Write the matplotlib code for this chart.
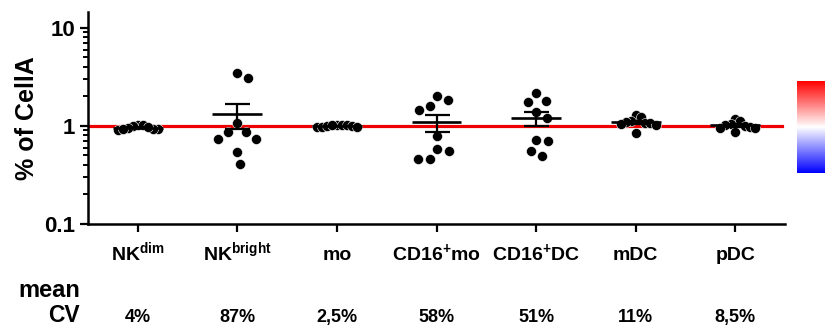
import numpy as np
import matplotlib
matplotlib.use("Agg")
import matplotlib.pyplot as plt
import matplotlib.transforms as mtransforms
from matplotlib.ticker import LogLocator, NullFormatter, FixedLocator

plt.rcParams['font.family'] = ['Liberation Sans', 'DejaVu Sans']
plt.rcParams['font.weight'] = 'bold'
plt.rcParams['mathtext.fontset'] = 'custom'
plt.rcParams['mathtext.rm'] = 'Liberation Sans:bold'
plt.rcParams['mathtext.bf'] = 'Liberation Sans:bold'
plt.rcParams['mathtext.default'] = 'bf'

# data (% of CellA)
labels = [r'NK$^{dim}$', r'NK$^{bright}$', 'mo', r'CD16$^{+}$mo', r'CD16$^{+}$DC', 'mDC', 'pDC']
nk_dim = [1.03, 1.01, 0.99, 0.95, 0.92, 0.91, 0.92, 0.93, 0.97]
nk_bright = [3.5, 3.07, 1.06, 0.875, 0.875, 0.74, 0.74, 0.54, 0.41]
mo = [1.03, 1.02, 1.01, 1.0, 0.98, 0.97, 0.98, 1.0, 1.02]
cd16_mo = [2.04, 1.84, 1.6, 1.46, 0.79, 0.58, 0.56, 0.457, 0.457]
cd16_dc = [2.16, 1.81, 1.74, 1.39, 1.2, 0.72, 0.70, 0.56, 0.49]
mdc = [1.29, 1.24, 1.12, 1.1, 1.08, 1.08, 1.05, 1.02, 0.85]
pdc = [1.18, 1.13, 1.05, 1.02, 1.0, 0.98, 0.96, 0.95, 0.87]
groups = [nk_dim, nk_bright, mo, cd16_mo, cd16_dc, mdc, pdc]
cv_text = ['4%', '87%', '2,5%', '58%', '51%', '11%', '8,5%']

fig = plt.figure(figsize=(8.25, 3.28), dpi=100)
ax = fig.add_axes([88/825, 1-224/328, 697/825, 212/328])
ax.set_yscale('log')
ax.set_ylim(0.1, 14.5)
ax.set_xlim(-0.5, 6.5)

ax.axhline(1, xmin=0, xmax=0.995, color='#ee0000', lw=2.3, zorder=1)

def swarm(vals, xc, d=12.0, maxw=20.0):
    # simple beeswarm in pixel space
    disp = ax.transData.transform(np.column_stack([np.full(len(vals), xc), vals]))
    ys = disp[:, 1]
    order = np.argsort(-ys)
    placed = []
    offs = np.zeros(len(vals))
    cands = [0.0]
    for k in range(1, 200):
        cands += [k*0.5, -k*0.5]
    for i in order:
        for c in cands:
            if all((c-px)**2 + (ys[i]-py)**2 >= d**2 for px, py in placed):
                offs[i] = c
                placed.append((c, ys[i]))
                break
    m = np.abs(offs).max()
    if m > maxw:
        offs = offs*maxw/m
    ppu = (ax.transData.transform((1, 1))[0] - ax.transData.transform((0, 1))[0])
    return xc + offs/ppu

for i, vals in enumerate(groups):
    vals = np.array(vals)
    xs = swarm(vals, i)
    ax.scatter(xs, vals, s=52, color='black', edgecolors='white', linewidths=0.4, zorder=3)
    mean = vals.mean()
    sem = vals.std(ddof=1)/np.sqrt(len(vals))
    ax.hlines(mean, i-0.25, i+0.25, color='black', lw=1.9, zorder=4)
    ax.errorbar(i, mean, yerr=sem, color='black', lw=1.6, capsize=9, capthick=1.6, zorder=4)

for s in ['top', 'right']:
    ax.spines[s].set_visible(False)
for s in ['left', 'bottom']:
    ax.spines[s].set_linewidth(1.8)

ax.yaxis.set_major_locator(FixedLocator([0.1, 1, 10]))
ax.set_yticklabels(['0.1', '1', '10'])
ax.yaxis.set_minor_locator(LogLocator(base=10, subs=np.arange(2, 10)))
ax.yaxis.set_minor_formatter(NullFormatter())
ax.tick_params(axis='y', which='major', length=6, width=1.6, labelsize=16, pad=3)
ax.tick_params(axis='y', which='minor', length=3.5, width=1.4)
ax.set_xticks(range(len(labels)))
ax.set_xticklabels([])
ax.tick_params(axis='x', which='major', length=6, width=1.6)
ax.set_ylabel('% of CellA', fontsize=18, fontweight='bold', labelpad=4)

trans = mtransforms.blended_transform_factory(ax.transData, fig.transFigure)
for i, lab in enumerate(labels):
    ax.text(i, 1-260/328, lab, transform=trans, ha='center', va='baseline',
            fontsize=14, fontweight='bold', clip_on=False)
    ax.text(i, 1-322/328, cv_text[i], transform=trans, ha='center', va='baseline',
            fontsize=13, fontweight='bold', clip_on=False)
fig.text(80/825, 1-297/328, 'mean', ha='right', va='baseline', fontsize=17, fontweight='bold')
fig.text(80/825, 1-322/328, 'CV', ha='right', va='baseline', fontsize=16.5, fontweight='bold')

# colour bar stub at the right edge
cax = fig.add_axes([797/825, 1-173/328, 0.06, 92/328])
grad = np.linspace(0, 1, 256).reshape(-1, 1)
cax.imshow(grad, cmap='bwr', aspect='auto', origin='lower')
cax.axis('off')

fig.savefig('out.png', dpi=100)
